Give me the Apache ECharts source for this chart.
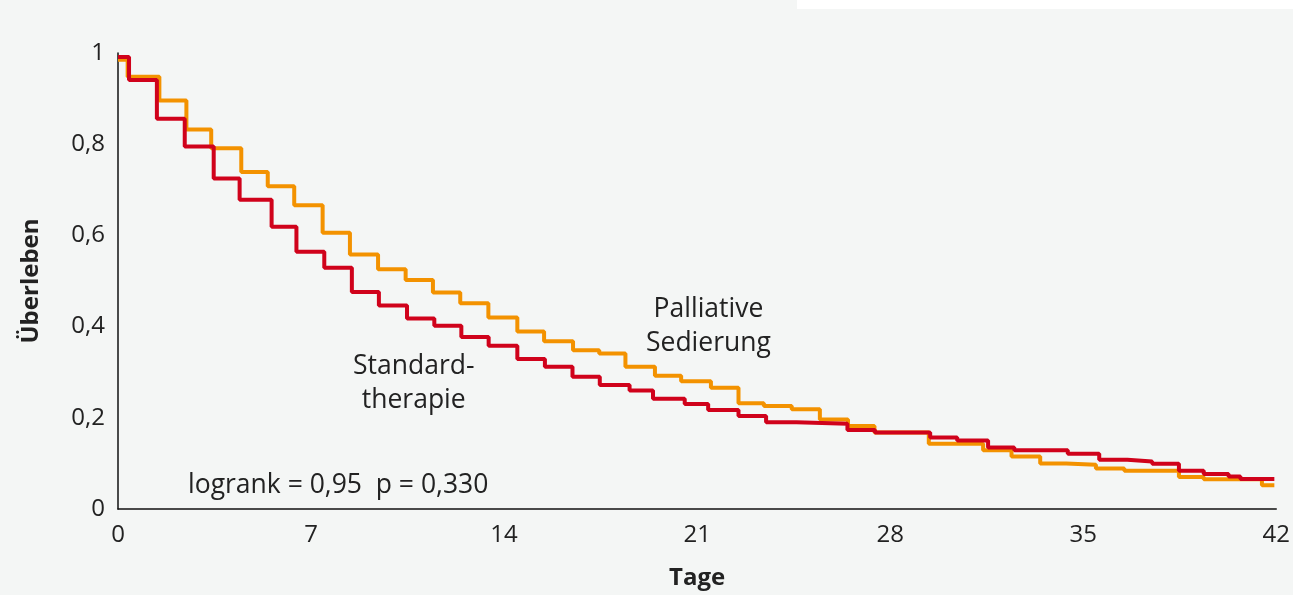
<!DOCTYPE html>
<html>
<head>
<meta charset="utf-8">
<script src="https://cdn.jsdelivr.net/npm/echarts@6/dist/echarts.min.js"></script>
<style>
html,body{margin:0;padding:0;background:#f4f6f5;}
#c{width:1293px;height:595px;}
</style>
</head>
<body>
<div id="c"></div>
<script>
// Kaplan-Meier steps: [day, survival after step]
const standardTherapie = [
  [0, 0.991], [0.40, 0.941], [1.41, 0.856], [2.42, 0.795], [3.47, 0.725], [4.41, 0.678],
  [5.57, 0.619], [6.47, 0.564], [7.48, 0.529], [8.48, 0.476], [9.46, 0.446], [10.48, 0.418],
  [11.47, 0.402], [12.45, 0.377], [13.44, 0.358], [14.48, 0.329], [15.48, 0.312], [16.48, 0.290],
  [17.47, 0.272], [18.55, 0.260], [19.4, 0.242], [20.55, 0.230], [21.4, 0.217], [22.5, 0.204],
  [23.5, 0.190], [24.6, 0.187], [26.45, 0.173], [27.45, 0.168], [29.45, 0.157], [30.43, 0.150],
  [31.55, 0.135], [32.5, 0.129], [34.44, 0.121], [35.58, 0.108], [36.6, 0.104], [37.5, 0.099],
  [38.47, 0.084], [39.37, 0.077], [40.27, 0.071], [40.7, 0.066], [41.93, 0.066]
];
const palliativeSedierung = [
  [0, 0.985], [0.35, 0.948], [1.5, 0.896], [2.48, 0.832], [3.38, 0.791], [4.47, 0.739],
  [5.43, 0.708], [6.39, 0.666], [7.42, 0.606], [8.41, 0.558], [9.43, 0.526], [10.43, 0.502],
  [11.42, 0.475], [12.41, 0.451], [13.43, 0.420], [14.48, 0.389], [15.45, 0.368], [16.5, 0.348],
  [17.45, 0.341], [18.4, 0.312], [19.47, 0.292], [20.42, 0.280], [21.5, 0.266], [22.5, 0.232],
  [23.42, 0.226], [24.43, 0.219], [25.45, 0.196], [26.47, 0.182], [27.43, 0.168], [29.4, 0.143],
  [31.37, 0.129], [32.4, 0.115], [33.44, 0.100], [34.38, 0.097], [35.46, 0.089], [36.49, 0.084],
  [38.47, 0.070], [39.37, 0.065], [41.48, 0.052], [41.93, 0.052]
];
const xTicks = [0, 7, 14, 21, 28, 35, 42];
const yTicks = [0, 0.2, 0.4, 0.6, 0.8, 1];
const labelStandard = 'Standard-\ntherapie';
const labelPalliativ = 'Palliative\nSedierung';
const labelStat = 'logrank = 0,95  p = 0,330';

const FONT = '"Open Sans", "Noto Sans", sans-serif';
const chart = echarts.init(document.getElementById('c'), null, {renderer: 'canvas'});
chart.setOption({
  backgroundColor: '#f4f6f5',
  animation: false,
  grid: {left: 118, right: 12, top: 53, bottom: 71, containLabel: false},
  xAxis: {
    type: 'value', min: xTicks[0], max: xTicks[xTicks.length - 1], interval: 7,
    name: 'Tage', nameLocation: 'middle', nameGap: 57,
    nameTextStyle: {fontFamily: FONT, fontWeight: 'bold', fontSize: 24, color: '#222'},
    axisLine: {show: true, lineStyle: {color: '#111', width: 1.5}},
    axisTick: {show: false},
    splitLine: {show: false},
    axisLabel: {fontFamily: FONT, fontSize: 24, color: '#222', margin: 14,
      formatter: v => String(v)}
  },
  yAxis: {
    type: 'value', min: yTicks[0], max: yTicks[yTicks.length - 1], interval: 0.2,
    name: 'Überleben', nameLocation: 'middle', nameGap: 75, nameRotate: 90,
    nameTextStyle: {fontFamily: FONT, fontWeight: 'bold', fontSize: 24, color: '#222'},
    axisLine: {show: true, lineStyle: {color: '#111', width: 1.5}},
    axisTick: {show: false},
    splitLine: {show: false},
    axisLabel: {fontFamily: FONT, fontSize: 24, color: '#222', margin: 13,
      formatter: v => String(Math.round(v * 10) / 10).replace('.', ',')}
  },
  graphic: [
    {type: 'rect', left: 797, top: 0, shape: {width: 496, height: 9}, style: {fill: '#ffffff'}, silent: true},
    {type: 'text', left: 353, top: 349, style: {text: labelStandard, font: '26.5px ' + FONT, fill: '#222', lineHeight: 34, textAlign: 'center'}},
    {type: 'text', left: 646, top: 292, style: {text: labelPalliativ, font: '26.5px ' + FONT, fill: '#222', lineHeight: 34, textAlign: 'center'}},
    {type: 'text', left: 188, top: 468, style: {text: labelStat, font: '26.5px ' + FONT, fill: '#222', lineHeight: 34}}
  ],
  series: [
    {
      name: 'Palliative Sedierung', type: 'line', step: 'end', showSymbol: false,
      data: palliativeSedierung,
      lineStyle: {color: '#f39200', width: 4}, itemStyle: {color: '#f39200'}, z: 2
    },
    {
      name: 'Standardtherapie', type: 'line', step: 'end', showSymbol: false,
      data: standardTherapie,
      lineStyle: {color: '#d0021b', width: 4}, itemStyle: {color: '#d0021b'}, z: 3
    }
  ]
});
</script>
</body>
</html>
